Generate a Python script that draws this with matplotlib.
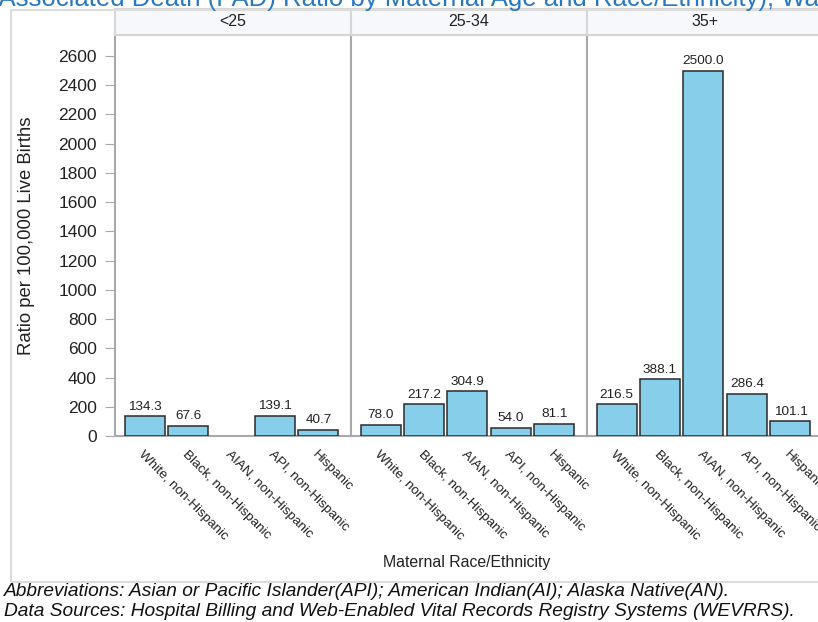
import numpy as np
import matplotlib
matplotlib.use("Agg")
import matplotlib.pyplot as plt
from matplotlib.patches import Rectangle

# data
age_groups = ["<25", "25-34", "35+"]
races = ["White, non-Hispanic", "Black, non-Hispanic", "AIAN, non-Hispanic",
         "API, non-Hispanic", "Hispanic"]
ratio_under25 = [134.3, 67.6, np.nan, 139.1, 40.7]
ratio_25_34 = [78.0, 217.2, 304.9, 54.0, 81.1]
ratio_35plus = [216.5, 388.1, 2500.0, 286.4, 101.1]
y_ticks = list(range(0, 2601, 200))

title = "Pregnancy-Associated Death (PAD) Ratio by Maternal Age and Race/Ethnicity), Washington"
footnotes = [
    "Abbreviations: Asian or Pacific Islander(API); American Indian(AI); Alaska Native(AN).",
    "Data Sources: Hospital Billing and Web-Enabled Vital Records Registry Systems (WEVRRS).",
]

plt.rcParams["font.family"] = ["Liberation Sans", "DejaVu Sans"]

W, H = 818, 622
fig = plt.figure(figsize=(W / 100, H / 100), dpi=100)


def fx(px):
    return px / W


def fy(py):
    return 1 - py / H


bar_color = "#87CEEB"
edge_color = "#2a2a2a"
sep_color = "#a7aaad"
light_border = "#d6d6d6"

# outer light frame
fig.add_artist(Rectangle((fx(11), fy(582)), fx(900), fy(10) - fy(582),
                         transform=fig.transFigure, fill=False,
                         edgecolor="#dcdcdc", lw=1.5))

series = [ratio_under25, ratio_25_34, ratio_35plus]
panel_w = 236
top_px, bottom_px, head_top = 35, 436, 9
ymax = (bottom_px - top_px) / (380 / 2600)
x = np.arange(len(races))

for i, (age, vals) in enumerate(zip(age_groups, series)):
    left = 115 + panel_w * i
    ax = fig.add_axes([fx(left), fy(bottom_px), fx(panel_w), fy(top_px) - fy(bottom_px)])
    ax.bar(x, vals, width=0.92, color=bar_color, edgecolor=edge_color, linewidth=1.1, zorder=3)
    for xi, v in zip(x, vals):
        if np.isnan(v):
            continue
        ax.text(xi, v + 25, f"{v:.1f}", ha="center", va="bottom", fontsize=9.7, color="#222222")
    ax.set_xlim(-0.68, 4.75)
    ax.set_ylim(0, ymax)
    ax.set_xticks(x)
    ax.set_xticklabels(races, rotation=-45, ha="left", va="top", rotation_mode="anchor",
                       fontsize=9.7, color="#222222")
    ax.tick_params(axis="x", length=0, pad=9)
    for s in ["left", "right", "bottom"]:
        ax.spines[s].set_color(sep_color)
        ax.spines[s].set_linewidth(1.5)
    ax.spines["top"].set_visible(False)
    if i == 0:
        ax.set_yticks(y_ticks)
        ax.tick_params(axis="y", length=7, color=sep_color, labelsize=12.5,
                       labelcolor="#222222", pad=6)
        ax.set_ylabel("Ratio per 100,000 Live Births", fontsize=13.3, color="#222222", labelpad=17)
    else:
        ax.set_yticks([])

    # facet header
    hax = fig.add_axes([fx(left), fy(top_px), fx(panel_w), fy(head_top) - fy(top_px)])
    hax.set_facecolor("#f6f8fc")
    hax.set_xticks([])
    hax.set_yticks([])
    for s in hax.spines.values():
        s.set_color(light_border)
        s.set_linewidth(1.5)
    hax.text(0.5, 0.5, age, ha="center", va="center", fontsize=11.5,
             color="#222222", transform=hax.transAxes)

fig.text(fx(467), fy(563), "Maternal Race/Ethnicity", ha="center", va="center",
         fontsize=11.4, color="#222222")
fig.text(fx(4), fy(592), footnotes[0], ha="left", va="center", fontsize=13.8,
         style="italic", color="#111111")
fig.text(fx(4), fy(611), footnotes[1], ha="left", va="center", fontsize=13.8,
         style="italic", color="#111111")
fig.text(fx(-133), fy(-1), title, ha="left", va="center", fontsize=18.5, color="#2a78c2")

fig.savefig("out.png", dpi=100)
